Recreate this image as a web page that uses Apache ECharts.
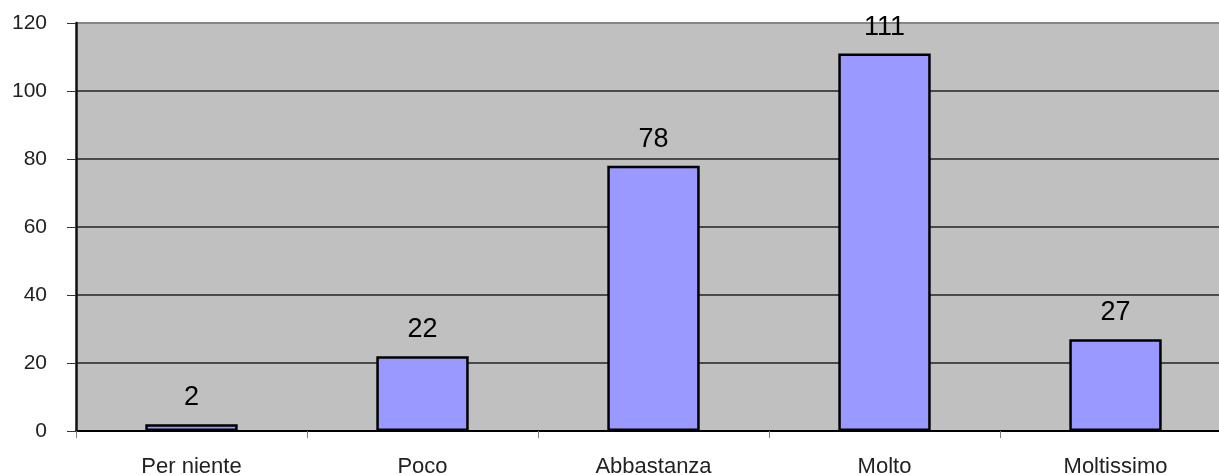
<!DOCTYPE html>
<html>
<head>
<meta charset="utf-8">
<script src="https://cdn.jsdelivr.net/npm/echarts@6/dist/echarts.min.js"></script>
<style>
html,body{margin:0;padding:0;background:#fff;}
#chart{width:1219px;height:475px;}
</style>
</head>
<body>
<div id="chart"></div>
<script>
const categories = ['Per niente', 'Poco', 'Abbastanza', 'Molto', 'Moltissimo'];
const values = [2, 22, 78, 111, 27];
const yMin = 0, yMax = 120, yStep = 20;

const font = '"Liberation Sans", Arial, sans-serif';
const chart = echarts.init(document.getElementById('chart'));
chart.setOption({
  backgroundColor: '#ffffff',
  animation: false,
  grid: {
    left: 76, width: 1155, top: 23, height: 408,
    outerBoundsMode: 'none', containLabel: false,
    show: true, backgroundColor: '#C0C0C0', borderWidth: 0
  },
  xAxis: {
    type: 'category',
    data: categories,
    axisLine: { show: true, lineStyle: { color: '#000', width: 1.5 } },
    axisTick: { show: true, alignWithLabel: false, length: 7, lineStyle: { color: '#808080', width: 1 } },
    axisLabel: { fontSize: 22, color: '#222', fontFamily: font, margin: 25 },
    splitLine: { show: false }
  },
  yAxis: {
    type: 'value',
    min: yMin, max: yMax, interval: yStep,
    axisLine: { show: true, lineStyle: { color: '#111', width: 2.5 } },
    axisTick: { show: true, length: 9, lineStyle: { color: '#333', width: 1 } },
    axisLabel: { fontSize: 21, color: '#222', fontFamily: font, margin: 29 },
    splitLine: { show: true, lineStyle: { color: ['#000', '#4a4a4a', '#4a4a4a', '#4a4a4a', '#4a4a4a', '#4a4a4a', '#858585'], width: 2 } }
  },
  series: [{
    type: 'bar',
    data: values,
    barWidth: '40%',
    itemStyle: { color: '#9999FF', borderColor: '#000', borderWidth: 2.5 },
    label: { show: true, position: 'top', distance: 13, fontSize: 27, color: '#000', fontFamily: font }
  }]
});
</script>
</body>
</html>
